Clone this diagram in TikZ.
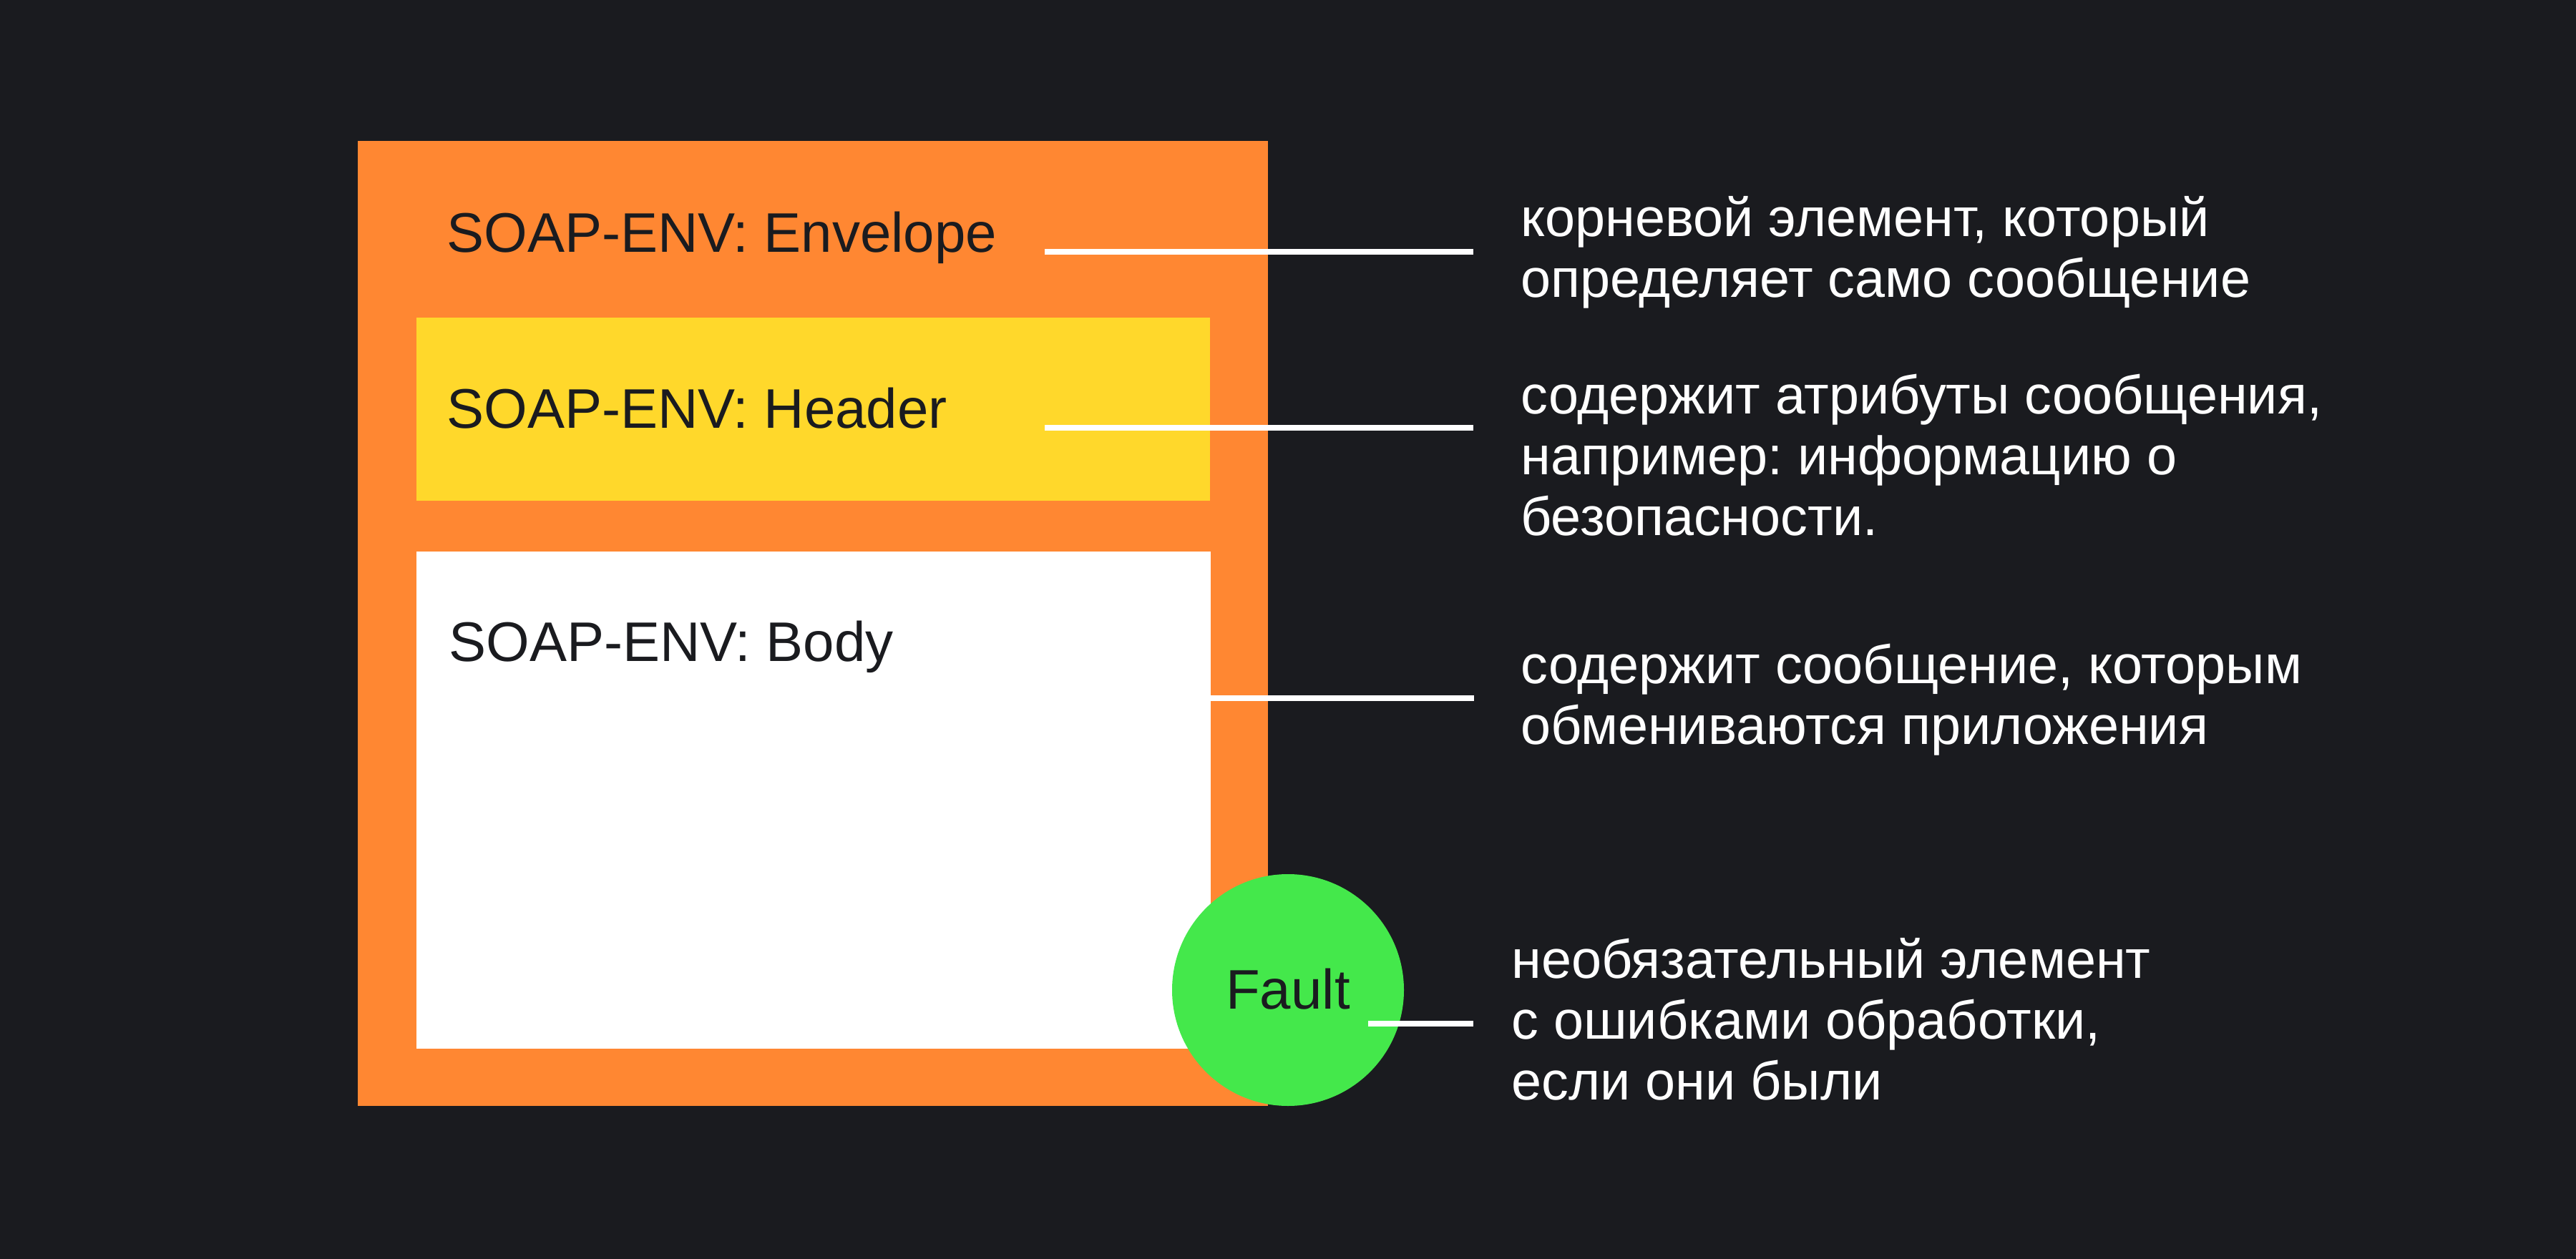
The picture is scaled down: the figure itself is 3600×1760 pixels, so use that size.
\documentclass[tikz,border=0pt]{standalone}
\usepackage{fontspec}
\setmainfont{Liberation Sans}
\frenchspacing
\definecolor{bgC}{HTML}{1A1B1F}
\definecolor{orangeC}{HTML}{FF8732}
\definecolor{yellowC}{HTML}{FFD82B}
\definecolor{greenC}{HTML}{44E84B}
\definecolor{inkC}{HTML}{1A1B1F}
\newcommand{\twolines}[2]{\vtop{\hbox{#1}\hbox{#2}}}
\newcommand{\threelines}[3]{\vtop{\hbox{#1}\hbox{#2}\hbox{#3}}}
\tikzset{
  blk/.style={rectangle, draw=none, inner sep=0pt},
  lbl/.style={inner sep=0pt, anchor=base west, text=inkC, font=\fontsize{39}{42.5}\selectfont},
  desc/.style={inner sep=0pt, anchor=base west, text=white, font=\fontsize{37.8}{42.5}\selectfont},
  lead/.style={draw=white, line width=4pt}
}
\begin{document}
\begin{tikzpicture}[x=0.5pt,y=-0.5pt]
\fill[bgC] (0,0) rectangle (3600,1760);
\useasboundingbox (0,0) rectangle (3600,1760);
% blocks
\node[blk, fill=orangeC, minimum width=636pt, minimum height=674.5pt] (env) at (1136,871.5) {};
\node[blk, fill=yellowC, minimum width=554.5pt, minimum height=128pt] (hdr) at (1136.5,572) {};
\node[blk, fill=white, minimum width=555pt, minimum height=347.5pt] (body) at (1137,1118.5) {};
\node[circle, fill=greenC, inner sep=0pt, minimum size=162pt] (fault) at (1800,1384) {};
% labels
\node[lbl] (envl) at (624,352) {SOAP-ENV: Envelope};
\node[lbl] (hdrl) at (624,598) {SOAP-ENV: Header};
\node[lbl] (bodyl) at (627,924) {SOAP-ENV: Body};
\node[lbl, anchor=base] (faultl) at (1800,1410) {Fault};
% descriptions
\node[desc] (d1) at (2125,331) {\twolines{корневой элемент, который}{определяет само сообщение}};
\node[desc] (d2) at (2125,578) {\threelines{содержит атрибуты сообщения,}{например: информацию о}{безопасности.}};
\node[desc] (d3) at (2125,955) {\twolines{содержит сообщение, которым}{обмениваются приложения}};
\node[desc] (d4) at (2112,1367) {\threelines{необязательный элемент}{с ошибками обработки,}{если они были}};
% leader lines
\coordinate (a1) at (1460,352); \coordinate (b1) at (2059,352);
\coordinate (a2) at (1460,598); \coordinate (b2) at (2059,598);
\coordinate (a3) at (1692,976); \coordinate (b3) at (2060,976);
\coordinate (a4) at (1912,1431); \coordinate (b4) at (2059,1431);
\draw[lead] (a1) -- (b1);
\draw[lead] (a2) -- (b2);
\draw[lead] (a3) -- (b3);
\draw[lead] (a4) -- (b4);
\end{tikzpicture}
\end{document}
